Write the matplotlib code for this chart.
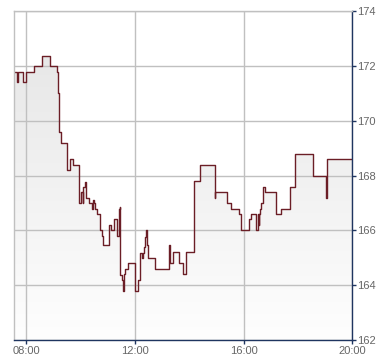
import matplotlib
matplotlib.use("Agg")
import matplotlib.pyplot as plt
import numpy as np
from matplotlib.colors import LinearSegmentedColormap
from matplotlib.patches import Polygon

times = ["07:33", "07:40", "07:41", "07:53", "08:00", "08:18", "08:34", "08:53", "09:07", "09:10",
         "09:11", "09:13", "09:16", "09:29", "09:37", "09:44", "09:56", "10:00", "10:05", "10:06",
         "10:09", "10:12", "10:18", "10:25", "10:28", "10:30", "10:31", "10:37", "10:43", "10:47",
         "10:49", "11:02", "11:07", "11:14", "11:21", "11:24", "11:27", "11:28", "11:31", "11:34",
         "11:35", "11:38", "11:44", "12:01", "12:06", "12:12", "12:15", "12:18", "12:21", "12:22",
         "12:25", "12:26", "12:29", "12:44", "13:15", "13:18", "13:25", "13:37", "13:47", "13:52",
         "14:10", "14:24", "14:56", "14:57", "15:24", "15:31", "15:49", "15:55", "16:11", "16:17",
         "16:27", "16:32", "16:33", "16:34", "16:36", "16:39", "16:42", "16:43", "16:48", "17:11",
         "17:23", "17:42", "17:54", "18:34", "19:03", "19:04", "20:00"]
prices = [171.78, 171.42, 171.78, 171.42, 171.78, 172.00, 172.38, 172.00, 171.78, 171.40,
          171.00, 169.58, 169.18, 168.20, 168.60, 168.40, 167.00, 167.40, 167.00, 167.60,
          167.78, 167.20, 167.00, 166.80, 167.10, 167.00, 166.80, 166.60, 166.00, 165.80,
          165.45, 166.20, 166.00, 166.40, 165.80, 166.77, 166.85, 164.38, 164.20, 163.80,
          164.40, 164.58, 164.80, 163.78, 164.18, 165.17, 165.00, 165.17, 165.40, 165.75,
          166.00, 165.45, 165.00, 164.58, 165.45, 164.80, 165.20, 164.80, 164.40, 165.20,
          167.80, 168.38, 167.18, 167.39, 167.00, 166.80, 166.60, 166.00, 166.40, 166.60,
          166.00, 166.60, 166.20, 166.60, 166.80, 167.00, 167.40, 167.58, 167.39, 166.60,
          166.80, 167.58, 168.78, 167.99, 167.20, 168.60, 168.60]

x_ticks = [8, 12, 16, 20]
x_tick_labels = ["08:00", "12:00", "16:00", "20:00"]
y_ticks = [162, 164, 166, 168, 170, 172, 174]

def to_hours(s):
    h, m = s.split(":")
    return int(h) + int(m) / 60.0

x = np.array([to_hours(t) for t in times])
y = np.array(prices)

plt.rcParams['font.family'] = ['Liberation Sans', 'DejaVu Sans']

fig = plt.figure(figsize=(3.9, 3.64), dpi=100)
ax = fig.add_axes([14 / 390, 1 - 340 / 364, (352.3 - 14) / 390, (340 - 11.3) / 364])

xmin, xmax = 7.547, 20.0
ymin, ymax = 162, 174

# step outline polygon for the gradient clip
vx, vy = [x[0]], [y[0]]
for i in range(1, len(x)):
    vx += [x[i], x[i]]
    vy += [y[i - 1], y[i]]
vx += [x[-1], x[0]]
vy += [ymin, ymin]
clip = Polygon(np.column_stack([vx, vy]), closed=True, facecolor='none', edgecolor='none',
               transform=ax.transData)
ax.add_patch(clip)

grad = np.linspace(0, 1, 256).reshape(-1, 1)
cmap = LinearSegmentedColormap.from_list('g', ['#e4e4e4', '#fefefe'])
im = ax.imshow(grad, extent=[xmin, xmax, ymin, ymax], aspect='auto', cmap=cmap,
               origin='upper', zorder=1, interpolation='bilinear')
im.set_clip_path(clip)

ax.step(x, y, where='post', color='#6b1e26', lw=1.0, zorder=3)

ax.set_xlim(xmin, xmax)
ax.set_ylim(ymin, ymax)
ax.set_xticks(x_ticks)
ax.set_xticklabels(x_tick_labels)
ax.set_yticks(y_ticks)
ax.yaxis.tick_right()

grid_c = '#c0c0c0'
ax.set_axisbelow(False)
ax.grid(True, color=grid_c, lw=1.0)
for gl in ax.get_xgridlines() + ax.get_ygridlines():
    gl.set_zorder(2)

navy = '#1f3560'
ax.spines['left'].set_color(grid_c)
ax.spines['top'].set_color(grid_c)
ax.spines['right'].set_color(navy)
ax.spines['bottom'].set_color(navy)
for s in ax.spines.values():
    s.set_linewidth(1.0)
    s.set_zorder(4)

ax.tick_params(axis='both', direction='out', length=3, width=1.0, color=navy,
               labelcolor='#666666', labelsize=8)
ax.tick_params(axis='y', pad=0.5)
ax.tick_params(axis='x', pad=1.5)

fig.savefig('out.png', dpi=100)
